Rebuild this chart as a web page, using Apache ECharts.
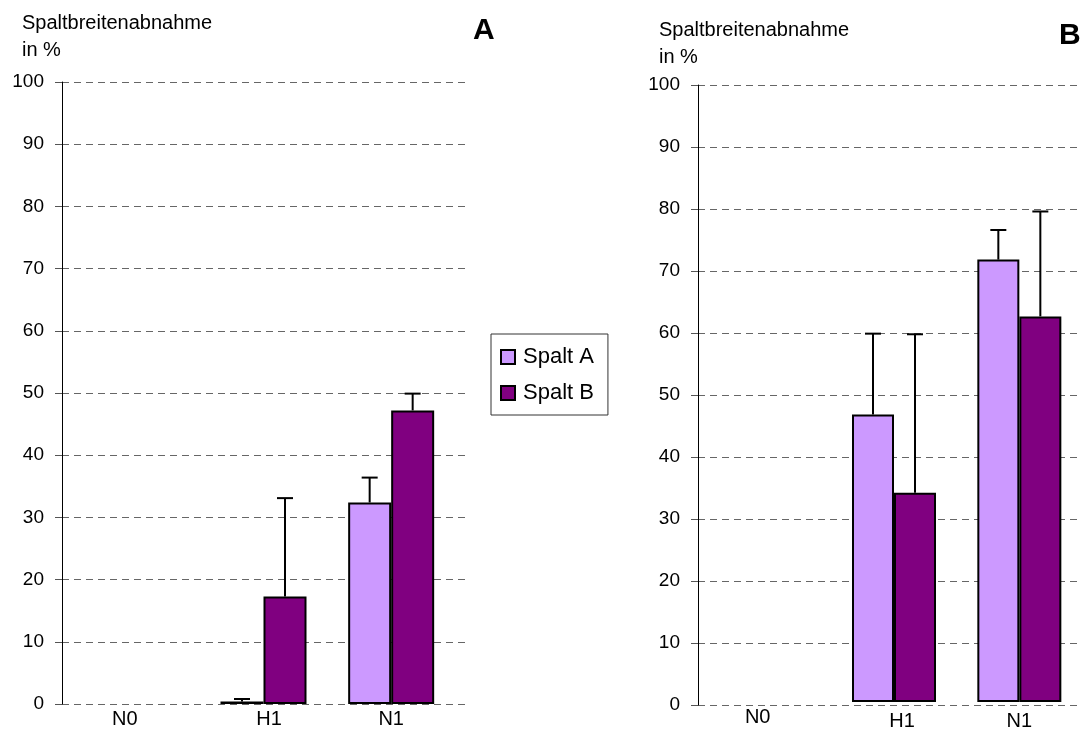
<!DOCTYPE html>
<html>
<head>
<meta charset="utf-8">
<script src="https://cdn.jsdelivr.net/npm/echarts@6/dist/echarts.min.js"></script>
<style>
  html, body { margin: 0; padding: 0; background: #fff; }
  #chart { width: 1082px; height: 731px; }
</style>
</head>
<body>
<div id="chart"></div>
<script>
// Kategorien und Werte
var categories = ['N0', 'H1', 'N1'];
var seriesNames = ['Spalt A', 'Spalt B'];

// Diagramm A
var aSpaltA = [null, 0.4, 32.4];
var aErrA = [null, 0.4, 4.0];
var aSpaltB = [null, 17.3, 47.2];
var aErrB = [null, 15.8, 2.7];

// Diagramm B
var bSpaltA = [null, 46.6, 71.7];
var bErrA = [null, 13.1, 4.8];
var bSpaltB = [null, 33.9, 62.5];
var bErrB = [null, 25.7, 17.0];

var colorA = '#cc99ff';
var colorB = '#800080';
var font = '"Liberation Sans", Arial, sans-serif';

var chart = echarts.init(document.getElementById('chart'));

function labelItems(shifts) {
    return categories.map(function (c, i) {
        return { value: c, textStyle: { padding: shifts[i] } };
    });
}

function errData(vals, errs) {
    return categories.map(function (c, i) {
        return [i, vals[i], errs[i]];
    }).filter(function (d) { return d[1] != null; });
}

function errSeries(vals, errs, xIdx, yIdx, offset) {
    return {
        type: 'custom',
        xAxisIndex: xIdx,
        yAxisIndex: yIdx,
        z: 5,
        silent: true,
        data: errData(vals, errs),
        encode: { x: 0, y: 1 },
        renderItem: function (params, api) {
            var base = api.coord([api.value(0), api.value(1)]);
            var top = api.coord([api.value(0), api.value(1) + api.value(2)]);
            var x = base[0] + offset;
            var st = { stroke: '#000', lineWidth: 2 };
            return {
                type: 'group',
                children: [
                    { type: 'line', shape: { x1: x, y1: base[1], x2: x, y2: top[1] }, style: st },
                    { type: 'line', shape: { x1: x - 8, y1: top[1], x2: x + 8, y2: top[1] }, style: st }
                ]
            };
        }
    };
}

function barSeries(name, vals, color, xIdx, yIdx, width) {
    return {
        name: name,
        type: 'bar',
        xAxisIndex: xIdx,
        yAxisIndex: yIdx,
        data: vals,
        barWidth: width,
        barGap: '0%',
        itemStyle: { color: color, borderColor: '#000', borderWidth: 2 }
    };
}

function frameY(gridIndex) {
    return {
        gridIndex: gridIndex,
        type: 'value',
        min: 0,
        max: 100,
        interval: 10,
        axisLine: { show: true, lineStyle: { color: '#000', width: 1 } },
        axisTick: { show: true, inside: false, length: 7, lineStyle: { color: '#555' } },
        axisLabel: { fontSize: 19, color: '#000', fontFamily: font, margin: 18 },
        splitLine: { show: true, lineStyle: { color: '#666', type: [7, 5], width: 1 } }
    };
}

function hiddenY(gridIndex) {
    return { gridIndex: gridIndex, type: 'value', min: 0, max: 100, show: false, splitLine: { show: false } };
}

chart.setOption({
    animation: false,
    textStyle: { fontFamily: font },
    title: [
        { text: 'Spaltbreitenabnahme\nin %', left: 22, top: 10, padding: 0,
          textStyle: { fontSize: 20, fontWeight: 'normal', color: '#000', lineHeight: 27, fontFamily: font } },
        { text: 'Spaltbreitenabnahme\nin %', left: 659, top: 17, padding: 0,
          textStyle: { fontSize: 20, fontWeight: 'normal', color: '#000', lineHeight: 27, fontFamily: font } },
        { text: 'A', left: 473, top: 16, padding: 0,
          textStyle: { fontSize: 30, fontWeight: 'bold', color: '#000', fontFamily: font } },
        { text: 'B', left: 1059, top: 21, padding: 0,
          textStyle: { fontSize: 30, fontWeight: 'bold', color: '#000', fontFamily: font } }
    ],
    legend: {
        data: seriesNames,
        orient: 'vertical',
        left: 491,
        top: 334,
        padding: [12, 14, 11, 9],
        itemGap: 14,
        itemWidth: 14,
        itemHeight: 14,
        icon: 'rect',
        borderColor: '#333',
        borderWidth: 1,
        itemStyle: { borderColor: '#000', borderWidth: 2 },
        textStyle: { fontSize: 22, color: '#000', fontFamily: font, padding: [0, 0, 0, 3] }
    },
    grid: [
        { left: 62, top: 82, width: 405, height: 622 },
        { left: 72, top: 82, width: 383, height: 622 },
        { left: 698, top: 85, width: 420, height: 620 },
        { left: 706, top: 85, width: 378, height: 620 }
    ],
    xAxis: [
        { gridIndex: 0, type: 'category', data: categories, show: false },
        { gridIndex: 1, type: 'category', data: labelItems([[0, 22, 0, 0], [0, 0, 0, 11], 0]),
          axisLine: { show: false }, axisTick: { show: false },
          axisLabel: { fontSize: 20, color: '#000', fontFamily: font, margin: 5 } },
        { gridIndex: 2, type: 'category', data: categories, show: false },
        { gridIndex: 3, type: 'category', data: labelItems([[0, 22, 0, 0], [4, 0, 0, 16], [4, 0, 0, 0]]),
          axisLine: { show: false }, axisTick: { show: false },
          axisLabel: { fontSize: 20, color: '#000', fontFamily: font, margin: 5 } }
    ],
    yAxis: [frameY(0), hiddenY(1), frameY(2), hiddenY(3)],
    series: [
        barSeries('Spalt A', aSpaltA, colorA, 1, 1, 43),
        barSeries('Spalt B', aSpaltB, colorB, 1, 1, 43),
        errSeries(aSpaltA, aErrA, 1, 1, -21.5),
        errSeries(aSpaltB, aErrB, 1, 1, 21.5),
        barSeries('Spalt A', bSpaltA, colorA, 3, 3, 42),
        barSeries('Spalt B', bSpaltB, colorB, 3, 3, 42),
        errSeries(bSpaltA, bErrA, 3, 3, -21),
        errSeries(bSpaltB, bErrB, 3, 3, 21)
    ]
});
</script>
</body>
</html>
